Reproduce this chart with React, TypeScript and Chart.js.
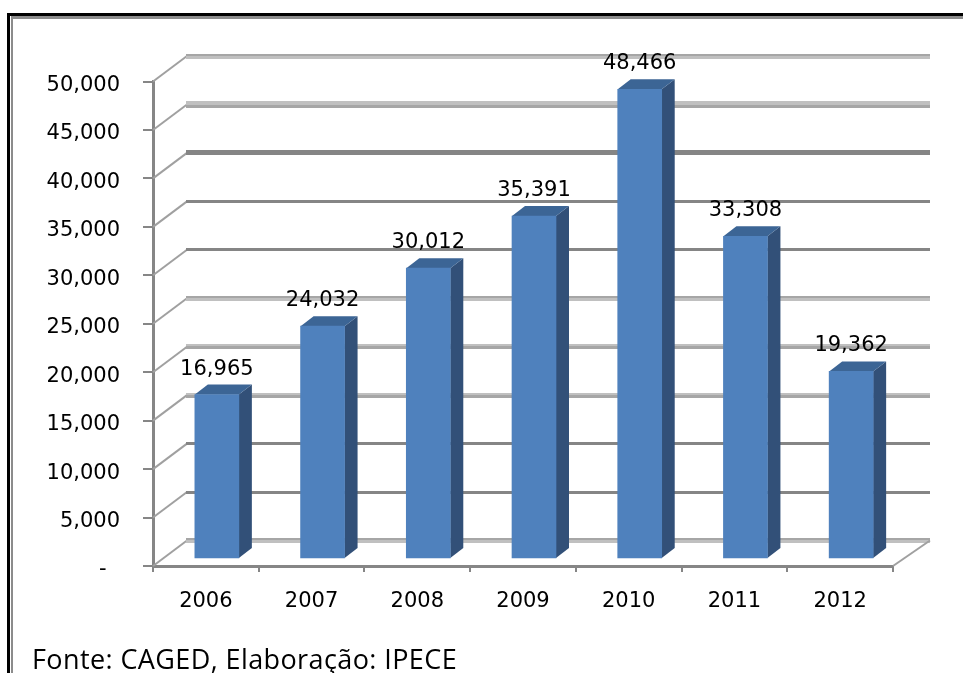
import React, { useEffect, useRef } from "react";
import { Chart, registerables } from "chart.js";

Chart.register(...registerables);

const categories = ["2006", "2007", "2008", "2009", "2010", "2011", "2012"];
const values = [16965, 24032, 30012, 35391, 48466, 33308, 19362];
const gridValues = [0, 5000, 10000, 15000, 20000, 25000, 30000, 35000, 40000, 45000, 50000];
const DARK = "#858585";
const MID = "#a6a6a6";
const LIGHT = "#c0c0c0";
const gridTopColors = [MID, DARK, DARK, LIGHT, LIGHT, MID, DARK, DARK, DARK, LIGHT, MID];
const gridTopHeights = [2, 3, 3, 2, 2, 2, 3, 3, 5, 4, 2];
const gridBottomColors = [LIGHT, DARK, DARK, MID, MID, LIGHT, DARK, DARK, DARK, MID, LIGHT];
const gridBottomHeights = [3, 0, 0, 3, 3, 3, 0, 0, 0, 3, 3];

const DEPTH_X = 34;
const DEPTH_Y = 25.5;
const BAR_SHIFT_X = 11;
const BAR_SHIFT_Y = 7;
const SIDE_X = 13;
const SIDE_Y = 10;
const FONT = "'DejaVu Sans', sans-serif";

const wall3d = {
  id: "wall3d",
  beforeDatasetsDraw(chart: any) {
    const { ctx, scales } = chart;
    const x = scales.x;
    const y = scales.y;
    ctx.save();
    gridValues.forEach((v, i) => {
      const py = y.getPixelForValue(v);
      ctx.strokeStyle = "#a0a0a0";
      ctx.lineWidth = 2;
      ctx.beginPath();
      ctx.moveTo(x.left, py);
      ctx.lineTo(x.left + DEPTH_X, py - DEPTH_Y);
      ctx.stroke();
      const h = gridTopHeights[i] + gridBottomHeights[i];
      const top = Math.round(py - DEPTH_Y - h / 2);
      const lx = x.left + DEPTH_X - 1;
      const w = x.right + DEPTH_X + 3 - lx;
      ctx.fillStyle = gridTopColors[i];
      ctx.fillRect(lx, top, w, gridTopHeights[i]);
      ctx.fillStyle = gridBottomColors[i];
      ctx.fillRect(lx, top + gridTopHeights[i], w, gridBottomHeights[i]);
    });
    const base = y.getPixelForValue(0);
    ctx.strokeStyle = "#a0a0a0";
    ctx.lineWidth = 2;
    ctx.beginPath();
    ctx.moveTo(x.right, base);
    ctx.lineTo(x.right + DEPTH_X + 3, base - DEPTH_Y);
    ctx.stroke();
    ctx.restore();

    // side and top faces of each bar
    const meta = chart.getDatasetMeta(0);
    ctx.save();
    meta.data.forEach((bar: any) => {
      const r = bar.x + bar.width / 2 + BAR_SHIFT_X;
      const l = bar.x - bar.width / 2 + BAR_SHIFT_X;
      const t = bar.y - BAR_SHIFT_Y;
      const b = bar.base - BAR_SHIFT_Y;
      ctx.fillStyle = "#325078";
      ctx.beginPath();
      ctx.moveTo(r, t);
      ctx.lineTo(r + SIDE_X, t - SIDE_Y);
      ctx.lineTo(r + SIDE_X, b - SIDE_Y);
      ctx.lineTo(r, b);
      ctx.closePath();
      ctx.fill();
      ctx.fillStyle = "#3c6595";
      ctx.beginPath();
      ctx.moveTo(l, t);
      ctx.lineTo(l + SIDE_X, t - SIDE_Y);
      ctx.lineTo(r + SIDE_X, t - SIDE_Y);
      ctx.lineTo(r, t);
      ctx.closePath();
      ctx.fill();
    });
    ctx.restore();
    ctx.save();
    ctx.translate(BAR_SHIFT_X, -BAR_SHIFT_Y);
  },
  afterDatasetsDraw(chart: any) {
    const { ctx } = chart;
    ctx.restore();
    const meta = chart.getDatasetMeta(0);
    ctx.save();
    ctx.font = `21px ${FONT}`;
    ctx.fillStyle = "#000000";
    ctx.textAlign = "center";
    ctx.textBaseline = "alphabetic";
    meta.data.forEach((bar: any, i: number) => {
      ctx.fillText(values[i].toLocaleString("en-US"), bar.x + BAR_SHIFT_X, bar.y - 27);
    });
    ctx.restore();
  },
};

export default function App() {
  const ref = useRef<HTMLCanvasElement | null>(null);
  useEffect(() => {
    document.body.style.margin = "0";
    const chart = new Chart(ref.current as HTMLCanvasElement, {
      type: "bar",
      data: {
        labels: categories,
        datasets: [
          {
            data: values,
            backgroundColor: "#4f81bd",
            barThickness: 44,
            borderWidth: 0,
          },
        ],
      },
      plugins: [wall3d],
      options: {
        animation: false,
        responsive: false,
        maintainAspectRatio: false,
        layout: { padding: { top: 81.5, left: 0, right: 70, bottom: 47 } },
        plugins: { legend: { display: false }, tooltip: { enabled: false } },
        scales: {
          x: {
            afterFit(s: any) {
              s.height = 60;
            },
            grid: { drawOnChartArea: false, color: "#868686", tickLength: 6, lineWidth: 2 },
            border: { color: "#868686", width: 3 },
            ticks: { color: "#000000", font: { family: FONT, size: 21 }, padding: 17, maxRotation: 0 },
          },
          y: {
            min: 0,
            max: 50000,
            afterFit(s: any) {
              s.width = 153;
            },
            grid: { drawOnChartArea: false, color: "#868686", tickLength: 10, lineWidth: 2 },
            border: { color: "#868686", width: 3 },
            ticks: {
              stepSize: 5000,
              color: "#000000",
              padding: 23,
              labelOffset: 4,
              font: { family: FONT, size: 21 },
              callback: (v: any) => (v === 0 ? "-  " : Number(v).toLocaleString("en-US")),
            },
          },
        },
      },
    });
    return () => chart.destroy();
  }, []);
  return (
    <div style={{ position: "relative", width: 963, height: 673, overflow: "hidden", background: "#fff" }}>
      <canvas ref={ref} width={963} height={673} style={{ position: "absolute", left: 0, top: 0 }} />
      <div style={{ position: "absolute", left: 7, top: 13, width: 960, height: 670, boxSizing: "border-box", borderTop: "3px solid #000", borderLeft: "3px solid #000" }}>
        <div style={{ position: "absolute", left: 1, top: 0, right: 0, bottom: 0, borderTop: "3px solid #8c8c8c", borderLeft: "2px solid #8c8c8c" }} />
      </div>
      <div
        style={{
          position: "absolute",
          left: 32,
          top: 641,
          fontFamily: "'Open Sans', sans-serif",
          fontSize: 27,
          letterSpacing: 0.4,
          lineHeight: "36px",
          color: "#000",
          whiteSpace: "nowrap",
        }}
      >
        Fonte: CAGED, Elaboração: IPECE
      </div>
    </div>
  );
}
